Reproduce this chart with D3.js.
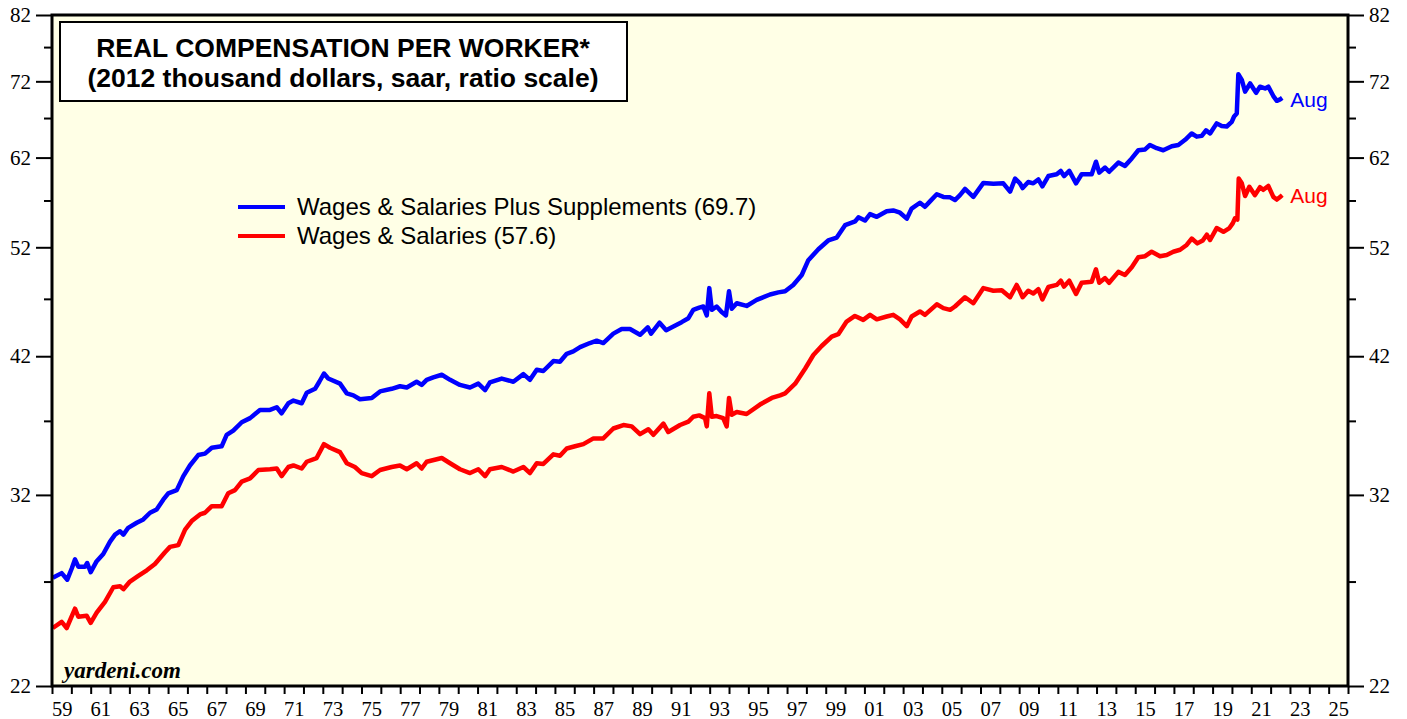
<!DOCTYPE html>
<html>
<head>
<meta charset="utf-8">
<script src="https://cdn.jsdelivr.net/npm/d3@7"></script>
<style>
  body { margin: 0; background: #fff; }
  svg text { font-family: "Liberation Serif", "Times New Roman", serif; }
</style>
</head>
<body>
<div id="chart"></div>
<script>
// real compensation per worker, 2012 thousand $
var wagesPlusSupp = [
    [1959.04, 27.2], [1959.5, 27.45], [1959.79, 27.1], [1960.02, 27.7], [1960.19, 28.2], [1960.36, 27.8],
    [1960.71, 27.8], [1960.82, 28.0], [1961.0, 27.5], [1961.31, 28.1], [1961.65, 28.5], [1962.0, 29.2],
    [1962.26, 29.6], [1962.52, 29.8], [1962.69, 29.6], [1962.94, 30.0], [1963.38, 30.3], [1963.72, 30.5],
    [1964.07, 30.9], [1964.41, 31.1], [1964.75, 31.7], [1965.01, 32.1], [1965.45, 32.3], [1965.79, 33.2],
    [1966.13, 33.9], [1966.56, 34.6], [1966.91, 34.7], [1967.26, 35.1], [1967.77, 35.2], [1968.03, 36.0],
    [1968.37, 36.3], [1968.81, 36.9], [1969.24, 37.2], [1969.75, 37.8], [1970.27, 37.8], [1970.62, 38.0],
    [1970.87, 37.55], [1971.22, 38.3], [1971.48, 38.5], [1971.91, 38.3], [1972.17, 39.1], [1972.6, 39.4],
    [1972.82, 39.95], [1973.06, 40.6], [1973.28, 40.2], [1973.89, 39.8], [1974.24, 39.05], [1974.58, 38.9],
    [1974.92, 38.6], [1975.53, 38.7], [1975.96, 39.2], [1976.56, 39.4], [1976.99, 39.6], [1977.34, 39.5],
    [1977.85, 39.95], [1978.11, 39.7], [1978.37, 40.1], [1978.71, 40.3], [1979.15, 40.5], [1979.58, 40.1],
    [1980.09, 39.7], [1980.61, 39.5], [1981.04, 39.8], [1981.39, 39.3], [1981.64, 39.9], [1982.25, 40.2],
    [1982.85, 39.95], [1983.37, 40.55], [1983.71, 40.1], [1984.06, 40.9], [1984.4, 40.8], [1984.92, 41.6],
    [1985.26, 41.55], [1985.61, 42.2], [1985.95, 42.4], [1986.3, 42.75], [1986.81, 43.1], [1987.16, 43.3],
    [1987.5, 43.1], [1988.02, 43.9], [1988.45, 44.3], [1988.88, 44.3], [1989.4, 43.8], [1989.8, 44.45],
    [1989.97, 43.9], [1990.41, 44.85], [1990.75, 44.2], [1991.1, 44.5], [1991.55, 44.9], [1991.9, 45.25],
    [1992.15, 46.0], [1992.46, 46.2], [1992.67, 46.3], [1992.85, 45.5], [1992.98, 48.0], [1993.11, 46.0],
    [1993.36, 46.3], [1993.62, 45.8], [1993.84, 45.5], [1994.0, 47.7], [1994.14, 46.1], [1994.4, 46.6],
    [1994.91, 46.35], [1995.43, 46.9], [1996.12, 47.4], [1996.55, 47.6], [1996.9, 47.7], [1997.32, 48.3],
    [1997.76, 49.25], [1998.1, 50.7], [1998.62, 51.8], [1999.13, 52.7], [1999.57, 53.0], [2000.0, 54.3],
    [2000.52, 54.7], [2000.69, 55.15], [2001.03, 54.8], [2001.29, 55.5], [2001.64, 55.2], [2002.15, 55.8],
    [2002.49, 55.9], [2002.84, 55.65], [2003.19, 55.0], [2003.44, 56.1], [2003.87, 56.75], [2004.13, 56.3],
    [2004.39, 56.9], [2004.74, 57.7], [2005.08, 57.4], [2005.43, 57.35], [2005.68, 57.05], [2005.94, 57.6],
    [2006.2, 58.3], [2006.63, 57.4], [2007.15, 59.0], [2007.67, 58.9], [2008.18, 58.95], [2008.53, 58.0],
    [2008.79, 59.5], [2009.04, 58.95], [2009.18, 58.4], [2009.47, 59.1], [2009.73, 58.95], [2009.99, 59.4],
    [2010.2, 58.6], [2010.51, 59.8], [2010.94, 60.0], [2011.15, 60.4], [2011.32, 59.8], [2011.59, 60.4],
    [2011.94, 58.95], [2012.23, 60.0], [2012.75, 60.0], [2012.97, 61.5], [2013.14, 60.2], [2013.44, 60.8],
    [2013.65, 60.3], [2014.13, 61.4], [2014.47, 61.0], [2014.82, 61.9], [2015.16, 62.9], [2015.51, 63.0],
    [2015.76, 63.55], [2016.11, 63.15], [2016.45, 62.9], [2016.89, 63.4], [2017.23, 63.55], [2017.58, 64.2],
    [2017.92, 65.0], [2018.18, 64.6], [2018.44, 64.7], [2018.66, 65.4], [2018.87, 65.0], [2019.21, 66.3],
    [2019.47, 65.95], [2019.73, 65.9], [2019.99, 66.5], [2020.11, 67.2], [2020.25, 67.6], [2020.33, 73.0],
    [2020.51, 72.2], [2020.68, 70.55], [2020.94, 71.7], [2021.25, 70.4], [2021.45, 71.25], [2021.71, 71.0],
    [2021.88, 71.25], [2022.14, 69.95], [2022.32, 69.3], [2022.49, 69.5], [2022.6, 69.7]
];

var wagesSal = [
    [1959.04, 24.65], [1959.5, 24.95], [1959.76, 24.65], [1960.19, 25.6], [1960.36, 25.2], [1960.79, 25.25],
    [1961.0, 24.9], [1961.31, 25.4], [1961.74, 25.95], [1962.17, 26.7], [1962.52, 26.75], [1962.69, 26.6],
    [1963.03, 27.0], [1963.46, 27.3], [1963.9, 27.6], [1964.32, 27.95], [1964.84, 28.6], [1965.1, 28.9],
    [1965.53, 29.0], [1965.88, 29.9], [1966.22, 30.4], [1966.65, 30.8], [1966.91, 30.9], [1967.26, 31.3],
    [1967.77, 31.3], [1968.11, 32.1], [1968.46, 32.3], [1968.81, 32.85], [1969.24, 33.05], [1969.67, 33.6],
    [1970.27, 33.65], [1970.62, 33.7], [1970.87, 33.2], [1971.22, 33.8], [1971.48, 33.9], [1971.91, 33.7],
    [1972.17, 34.15], [1972.68, 34.4], [1973.06, 35.35], [1973.37, 35.1], [1973.89, 34.8], [1974.24, 34.05],
    [1974.66, 33.8], [1975.01, 33.4], [1975.53, 33.2], [1975.96, 33.6], [1976.56, 33.8], [1976.99, 33.9],
    [1977.34, 33.65], [1977.85, 34.05], [1978.11, 33.7], [1978.37, 34.15], [1979.15, 34.4], [1979.58, 34.05],
    [1980.09, 33.65], [1980.61, 33.4], [1981.04, 33.65], [1981.39, 33.2], [1981.64, 33.65], [1982.25, 33.8],
    [1982.85, 33.5], [1983.37, 33.8], [1983.71, 33.4], [1984.06, 34.05], [1984.4, 34.0], [1984.92, 34.65],
    [1985.26, 34.55], [1985.61, 35.05], [1986.04, 35.2], [1986.47, 35.35], [1986.99, 35.75], [1987.5, 35.75],
    [1988.02, 36.45], [1988.54, 36.7], [1988.97, 36.6], [1989.4, 36.05], [1989.83, 36.4], [1990.09, 36.0],
    [1990.61, 36.8], [1990.86, 36.2], [1991.47, 36.7], [1991.9, 36.95], [1992.15, 37.3], [1992.46, 37.4],
    [1992.76, 37.2], [1992.85, 36.6], [1992.98, 39.05], [1993.11, 37.3], [1993.36, 37.35], [1993.7, 37.2],
    [1993.88, 36.6], [1994.0, 38.7], [1994.14, 37.45], [1994.4, 37.65], [1994.91, 37.5], [1995.6, 38.2],
    [1996.21, 38.7], [1996.64, 38.9], [1996.9, 39.05], [1997.42, 39.8], [1997.94, 41.0], [1998.36, 42.1],
    [1998.79, 42.85], [1999.31, 43.65], [1999.65, 43.85], [2000.08, 44.95], [2000.51, 45.45], [2000.94, 45.1],
    [2001.29, 45.55], [2001.64, 45.15], [2002.15, 45.4], [2002.49, 45.55], [2002.84, 45.15], [2003.19, 44.55],
    [2003.44, 45.4], [2003.87, 45.85], [2004.13, 45.55], [2004.74, 46.5], [2005.08, 46.15], [2005.43, 46.0],
    [2005.68, 46.3], [2006.2, 47.15], [2006.63, 46.6], [2007.15, 48.0], [2007.67, 47.75], [2008.1, 47.8],
    [2008.53, 47.15], [2008.87, 48.3], [2009.04, 47.7], [2009.18, 47.15], [2009.47, 47.75], [2009.73, 47.5],
    [2009.99, 47.9], [2010.2, 46.95], [2010.51, 48.1], [2010.94, 48.3], [2011.15, 48.7], [2011.32, 48.15],
    [2011.59, 48.7], [2011.94, 47.45], [2012.23, 48.5], [2012.75, 48.6], [2012.97, 49.8], [2013.14, 48.5],
    [2013.44, 48.95], [2013.65, 48.5], [2014.13, 49.55], [2014.47, 49.25], [2014.82, 50.0], [2015.16, 51.0],
    [2015.51, 51.1], [2015.85, 51.55], [2016.28, 51.1], [2016.63, 51.22], [2016.97, 51.55], [2017.32, 51.75],
    [2017.66, 52.24], [2017.92, 52.9], [2018.21, 52.4], [2018.49, 52.7], [2018.7, 53.3], [2018.87, 52.75],
    [2019.21, 54.0], [2019.56, 53.6], [2019.87, 54.0], [2020.04, 54.5], [2020.16, 55.05], [2020.28, 54.9],
    [2020.35, 59.5], [2020.51, 58.95], [2020.68, 57.5], [2020.9, 58.55], [2021.19, 57.6], [2021.45, 58.5],
    [2021.62, 58.2], [2021.88, 58.65], [2022.14, 57.4], [2022.32, 57.1], [2022.49, 57.4], [2022.6, 57.6]
];

var yMajor = [22, 32, 42, 52, 62, 72, 82];
var yMinor = [27, 37, 47, 57, 67, 77];
var xYears = d3.range(1959, 2027);
var xLabels = d3.range(1959, 2026, 2);

var W = 1407, H = 719;
var plotL = 52, plotR = 1348, plotT = 15, plotB = 686;

var svg = d3.select("#chart")
    .append("svg")
    .attr("width", W)
    .attr("height", H);

var x = d3.scaleLinear()
    .domain([1959, 2026])
    .range([plotL, plotR]);

var y = d3.scaleLog()
    .domain([22, 82])
    .range([plotB, plotT]);

// plot background
svg.append("rect")
    .attr("x", plotL)
    .attr("y", plotT)
    .attr("width", plotR - plotL)
    .attr("height", plotB - plotT)
    .style("fill", "#ffffe6");

function styleAxis(size) {
    return function (g) {
        g.select(".domain").remove();
        g.selectAll(".tick line").style("stroke", "#000").style("stroke-width", 2);
        g.selectAll(".tick text")
            .style("font-family", "'Liberation Serif', 'Times New Roman', serif")
            .style("font-size", size + "px")
            .style("fill", "#000");
    };
}

// y axes, left and right
svg.append("g")
    .attr("transform", "translate(" + plotL + ",0)")
    .call(d3.axisLeft(y).tickValues(yMajor).tickSize(16).tickPadding(5).tickFormat(d3.format("d")))
    .call(styleAxis(21));
svg.append("g")
    .attr("transform", "translate(" + plotL + ",0)")
    .call(d3.axisLeft(y).tickValues(yMinor).tickSize(8).tickFormat(""))
    .call(styleAxis(21));
svg.append("g")
    .attr("transform", "translate(" + plotR + ",0)")
    .call(d3.axisRight(y).tickValues(yMajor).tickSize(16).tickPadding(5).tickFormat(d3.format("d")))
    .call(styleAxis(21));
svg.append("g")
    .attr("transform", "translate(" + plotR + ",0)")
    .call(d3.axisRight(y).tickValues(yMinor).tickSize(8).tickFormat(""))
    .call(styleAxis(21));

// x axis: a tick every year, label centred in odd years
svg.append("g")
    .attr("transform", "translate(0," + plotB + ")")
    .call(d3.axisBottom(x).tickValues(xYears).tickSize(8).tickFormat(""))
    .call(styleAxis(20));
svg.append("g")
    .attr("transform", "translate(0," + plotB + ")")
    .call(d3.axisBottom(x).tickValues(xLabels.map(function (d) { return d + 0.5; }))
        .tickSize(0).tickPadding(15)
        .tickFormat(function (d) { return d3.format("02d")(Math.floor(d) % 100); }))
    .call(styleAxis(20.5));

// lines
var line = d3.line()
    .x(function (d) { return x(d[0]); })
    .y(function (d) { return y(d[1]); });

svg.append("path")
    .datum(wagesSal)
    .attr("d", line)
    .style("fill", "none")
    .style("stroke", "#ff0000")
    .style("stroke-width", 4.5)
    .style("stroke-linejoin", "round");

svg.append("path")
    .datum(wagesPlusSupp)
    .attr("d", line)
    .style("fill", "none")
    .style("stroke", "#0000ff")
    .style("stroke-width", 4.5)
    .style("stroke-linejoin", "round");

// end labels
var lastBlue = wagesPlusSupp[wagesPlusSupp.length - 1];
var lastRed = wagesSal[wagesSal.length - 1];
svg.append("text")
    .attr("x", x(lastBlue[0]) + 8)
    .attr("y", y(lastBlue[1]) + 9)
    .style("font-family", "Arial, 'Liberation Sans', sans-serif")
    .style("font-size", "21px")
    .style("fill", "#0000ff")
    .text("Aug");
svg.append("text")
    .attr("x", x(lastRed[0]) + 8)
    .attr("y", y(lastRed[1]) + 8)
    .style("font-family", "Arial, 'Liberation Sans', sans-serif")
    .style("font-size", "21px")
    .style("fill", "#ff0000")
    .text("Aug");

// plot border
svg.append("rect")
    .attr("x", plotL)
    .attr("y", plotT)
    .attr("width", plotR - plotL)
    .attr("height", plotB - plotT)
    .style("fill", "none")
    .style("stroke", "#000")
    .style("stroke-width", 3);

// title box
svg.append("rect")
    .attr("x", 60)
    .attr("y", 22)
    .attr("width", 567)
    .attr("height", 79)
    .style("fill", "#fff")
    .style("stroke", "#000")
    .style("stroke-width", 2);
svg.append("text")
    .attr("x", 343)
    .attr("y", 57)
    .attr("text-anchor", "middle")
    .style("font-family", "Arial, 'Liberation Sans', sans-serif")
    .style("font-weight", "bold")
    .style("font-size", "26.5px")
    .text("REAL COMPENSATION PER WORKER*");
svg.append("text")
    .attr("x", 343)
    .attr("y", 87)
    .attr("text-anchor", "middle")
    .style("font-family", "Arial, 'Liberation Sans', sans-serif")
    .style("font-weight", "bold")
    .style("font-size", "26.5px")
    .text("(2012 thousand dollars, saar, ratio scale)");

// legend
var legend = [
    { label: "Wages & Salaries Plus Supplements (69.7)", color: "#0000ff" },
    { label: "Wages & Salaries (57.6)", color: "#ff0000" }
];
legend.forEach(function (d, i) {
    var ly = 207 + i * 29;
    svg.append("line")
        .attr("x1", 238)
        .attr("x2", 285)
        .attr("y1", ly)
        .attr("y2", ly)
        .style("stroke", d.color)
        .style("stroke-width", 4);
    svg.append("text")
        .attr("x", 297)
        .attr("y", ly + 8)
        .style("font-family", "Arial, 'Liberation Sans', sans-serif")
        .style("font-size", "24px")
        .style("fill", "#000")
        .text(d.label);
});

svg.append("text")
    .attr("x", 64)
    .attr("y", 678)
    .style("font-family", "'Liberation Serif', 'Times New Roman', serif")
    .style("font-weight", "bold")
    .style("font-style", "italic")
    .style("font-size", "23px")
    .text("yardeni.com");
</script>
</body>
</html>
